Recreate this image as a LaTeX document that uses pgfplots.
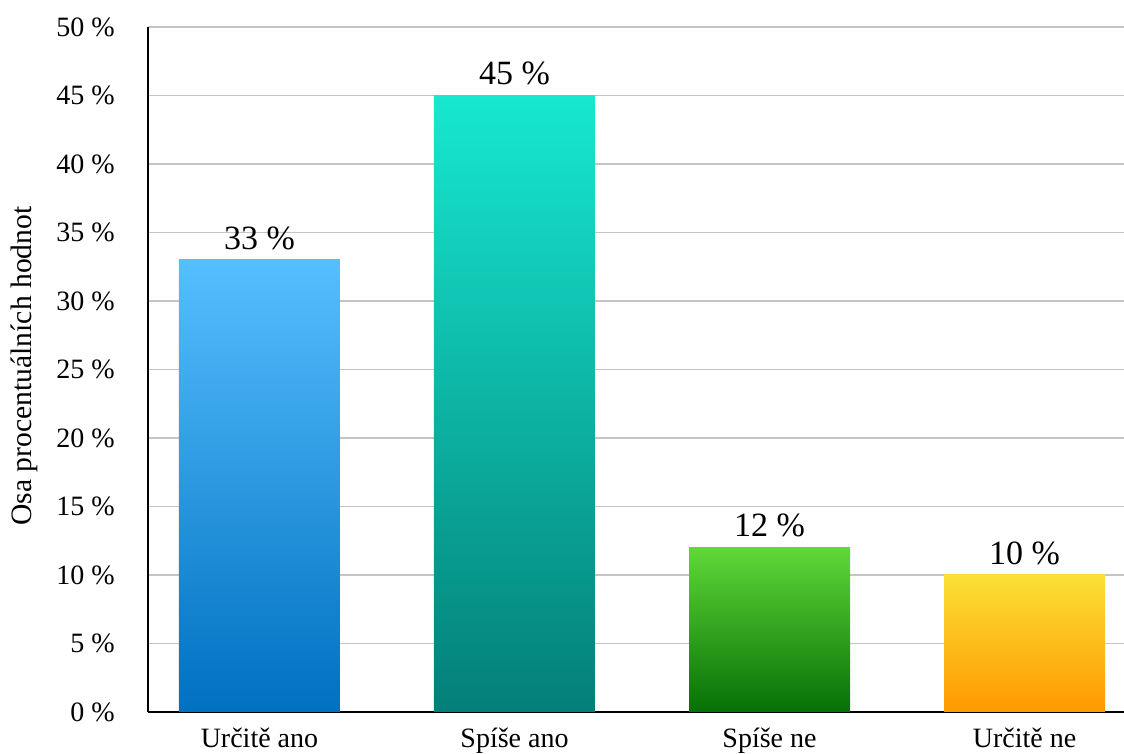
\documentclass[border=0pt]{standalone}
\usepackage{pgfplots}
\pgfplotsset{compat=1.18}
\usepackage{fontspec}
\setmainfont{Liberation Serif}
\definecolor{gridc}{HTML}{C4C4C4}
\definecolor{aT}{HTML}{55BFFF}\definecolor{aB}{HTML}{0070C0}
\definecolor{bT}{HTML}{17E8D0}\definecolor{bB}{HTML}{037F78}
\definecolor{cT}{HTML}{5FD839}\definecolor{cB}{HTML}{066F06}
\definecolor{dT}{HTML}{FBE035}\definecolor{dB}{HTML}{FF9800}
\begin{document}
\begin{tikzpicture}
\begin{axis}[
  at={(0,0)}, anchor=south west,
  scale only axis,
  width=488pt, height=342.5pt,
  xmin=-0.437, xmax=3.39,
  ymin=0, ymax=50,
  axis x line*=bottom, axis y line*=left,
  axis line style={-, black, line width=1.2pt},
  ybar, bar width=80.5pt, bar shift=0pt,
  xtick={0,1,2,3},
  xticklabels={Určitě ano, Spíše ano, Spíše ne, Určitě ne},
  ytick={0,5,...,50},
  yticklabels={0 \%,5 \%,10 \%,15 \%,20 \%,25 \%,30 \%,35 \%,40 \%,45 \%,50 \%},
  major tick length=0pt,
  tick style={draw=none},
  ymajorgrids,
  grid style={gridc, line width=0.8pt},
  yticklabel style={font=\fontsize{14}{16}\selectfont, inner sep=0pt, xshift=-16.5pt},
  xticklabel style={font=\fontsize{14}{16}\selectfont, inner sep=0pt, yshift=-8pt},
  ylabel={Osa procentuálních hodnot},
  every axis y label/.style={at={(axis description cs:-0.127,0.505)}, rotate=90, anchor=center, font=\fontsize{14.8}{17}\selectfont},
  nodes near coords={\pgfmathprintnumber[assume math mode=true]{\pgfplotspointmeta} \%},
  every node near coord/.append style={font=\fontsize{17}{19}\selectfont, black, inner sep=0pt, yshift=5pt},
]
\addplot[draw=none, top color=aT, bottom color=aB] coordinates {(0,33)};
\addplot[draw=none, top color=bT, bottom color=bB] coordinates {(1,45)};
\addplot[draw=none, top color=cT, bottom color=cB] coordinates {(2,12)};
\addplot[draw=none, top color=dT, bottom color=dB] coordinates {(3,10)};
\end{axis}
\pgfresetboundingbox
\path[use as bounding box] (-74pt,-21pt) rectangle (488pt,356pt);
\end{tikzpicture}
\end{document}
